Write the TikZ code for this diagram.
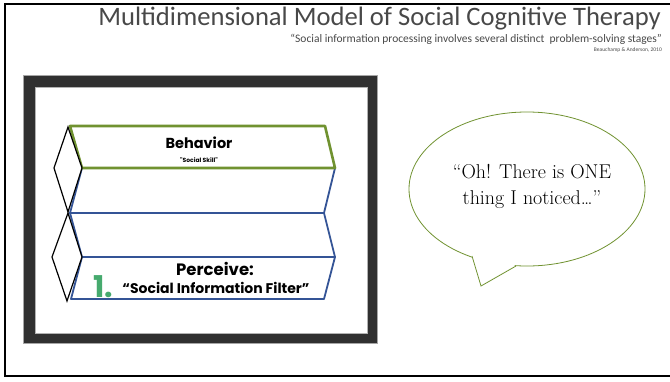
\documentclass[tikz,border=0pt]{standalone}
\usepackage{fontspec}
\usepackage{xcolor}
\usepackage{tikz}
\usetikzlibrary{calc,positioning}
\newfontfamily\titlefont{Carlito}
\newfontfamily\chalkfont{Poppins}
\definecolor{bandgreen}{RGB}{112,146,48}
\definecolor{bandblue}{RGB}{52,84,150}
\definecolor{framegray}{RGB}{48,48,48}
\definecolor{onegreen}{RGB}{70,170,110}
\definecolor{titlegray}{RGB}{72,72,72}

\begin{document}
\begin{tikzpicture}
		[x=1pt,y=-1pt,
		bluebandbox/.style={draw=bandblue,line width=1.8pt,fill=white,line join=round},
		greenbandbox/.style={draw=bandgreen,line width=2.6pt,fill=white,line join=round},
		foldbox/.style={draw=black,line width=1.2pt,fill=white},
		bubble/.style={draw=bandgreen,line width=0.8pt,fill=white},
		bandtext/.style={inner sep=0pt},
		headtext/.style={anchor=east,inner sep=0pt,text=titlegray}]
		\useasboundingbox (0,0) rectangle (670,381);
		% slide edge
		\draw[line width=2.4pt] (675,4) -- (5,4) -- (5,376) -- (675,376);
		% titles
		\node[headtext,font=\titlefont\fontsize{26.6}{30}\selectfont] (title) at (661,19)
		{Multidimensional Model of Social Cognitive Therapy};
		\node[headtext,font=\titlefont\fontsize{11.5}{13}\selectfont] (quote) at (662,39)
		{“Social information processing involves several distinct\ \ problem-solving stages”};
		\node[headtext,font=\titlefont\fontsize{5.5}{6}\selectfont] (cite) at (662,50)
		{Beauchamp \& Anderson, 2010};
		% picture frame
		\draw[draw=gray!70,fill=framegray] (23,75) rectangle (377,343);
		\draw[draw=gray!60,fill=white] (35,87) rectangle (367,333);
		% bands
		\foreach \ya/\yb/\xa/\xb in {168/213/82/70,213/257/70/82,257/299/82/71}
		{
			\pgfmathsetmacro{\xc}{\xa==82 ? 335 : 324}
			\pgfmathsetmacro{\xd}{\xa==82 ? 324 : 335}
			\draw[bluebandbox] (\xa,\ya) -- (\xc,\ya) -- (\xd,\yb) -- (\xb,\yb) -- cycle;
		}
		\draw[greenbandbox] (70,126) -- (325,126) -- (335,168) -- (82,168) -- cycle;
		\draw[foldbox] (68,127) -- (82,168) -- (68,212) -- (54,168) -- cycle;
		\draw[foldbox] (68,213) -- (82,257) -- (67,301) -- (52,257) -- cycle;
		% band labels
		\node[bandtext,font=\chalkfont\bfseries\fontsize{14.5}{16}\selectfont] (behavior) at (199,143) {Behavior};
		\node[bandtext,font=\chalkfont\bfseries\fontsize{6}{7}\selectfont] (skill) at (199,160) {"Social Skill"};
		\node[bandtext,font=\chalkfont\bfseries\fontsize{16.5}{18}\selectfont] (perceive) at (215,269) {Perceive:};
		\node[bandtext,font=\chalkfont\bfseries\fontsize{14}{16}\selectfont] (filter) at (216,288) {“Social Information Filter”};
		\node[bandtext,text=onegreen,font=\chalkfont\bfseries\fontsize{30}{32}\selectfont] (one) at (103,287) {1.};
		% speech bubble
		\draw[bubble] (527,189) ellipse [x radius=118pt,y radius=77pt];
		\fill[white] (471,254) -- (481,287) -- (517,264) -- cycle;
		\coordinate (tailA) at (472,256);
		\coordinate (tailB) at (481,286);
		\coordinate (tailC) at (516,266);
		\draw[bubble,fill=none] (tailA) -- (tailB) -- (tailC);
		\node[align=center,inner sep=0pt,font=\fontsize{20}{26}\selectfont] (said) at (532,186)
		{“Oh! There is ONE\\thing I noticed…”};
\end{tikzpicture}
\end{document}
